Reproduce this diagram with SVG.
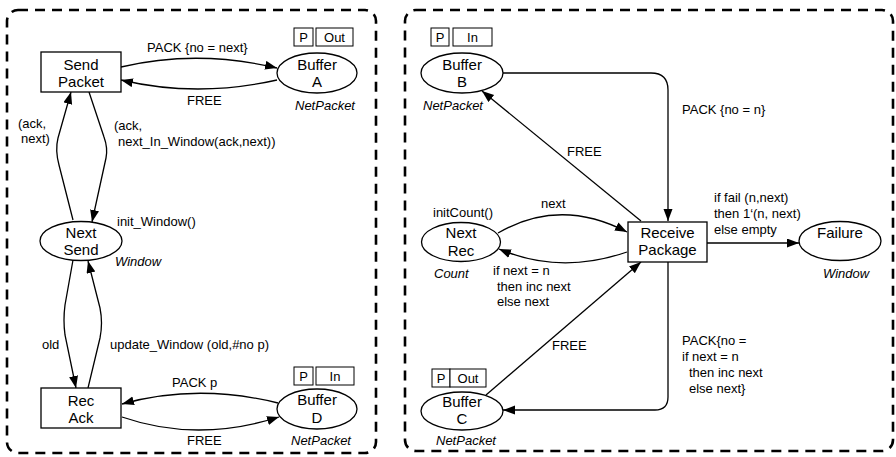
<svg xmlns="http://www.w3.org/2000/svg" width="896" height="457" viewBox="0 0 896 457">
<defs>
<marker id="arr" markerUnits="userSpaceOnUse" markerWidth="12" markerHeight="10" refX="12" refY="4.5" orient="auto">
<path d="M0,0 L12,4.5 L0,9 z" fill="#000"/>
</marker>
<style>
.panel{fill:none;stroke:#000;stroke-width:2.6;stroke-dasharray:10,7}
.node{fill:#fff;stroke:#000;stroke-width:1.3}
.port{fill:#fff;stroke:#000;stroke-width:1}
.edge{fill:none;stroke:#000;stroke-width:1.3;marker-end:url(#arr)}
text{font-family:"Liberation Sans",Arial,Helvetica,sans-serif;fill:#000}
.nl{font-size:15px;text-anchor:middle}
.pl{font-size:13px;text-anchor:middle}
.el{font-size:13px}
.ty{font-size:13px;font-style:italic}
</style>
</defs>
<rect class="panel" x="7" y="10" width="369" height="443" rx="11"/>
<rect class="panel" x="405" y="10" width="488" height="441" rx="11"/>

<g id="connectors">
<path class="edge" d="M121,67 Q197,49 277,68"/>
<path class="edge" d="M277,80 Q197,98 121,80"/>
<path class="edge" d="M73,220 L59,165 Q55,150 58,138 L71,92"/>
<path class="edge" d="M89,92 L104,137 Q108,148 106,158 L92,222"/>
<path class="edge" d="M73,260 L65,305 Q63,320 65,335 L76,388"/>
<path class="edge" d="M88,388 L100,338 Q103,323 100,308 L88,261"/>
<path class="edge" d="M278,403 Q197,383 122,404"/>
<path class="edge" d="M122,417 Q197,443 279,417"/>
<path class="edge" d="M503,73 L651,73 Q668,73 668,90 L668,221"/>
<path class="edge" d="M641,221 L482,91"/>
<path class="edge" d="M498,233 Q560,197 627,232"/>
<path class="edge" d="M627,252 Q560,275 499,249"/>
<path class="edge" d="M707,243 L799,243"/>
<path class="edge" d="M486,395 L641,262"/>
<path class="edge" d="M668,262 L668,397 Q668,410 655,410 L503,410"/>
<text class="el" x="147" y="52">PACK {no = next}</text>
<text class="el" x="187" y="105">FREE</text>
<text class="el" x="18" y="128">(ack,</text>
<text class="el" x="21" y="143">next)</text>
<text class="el" x="114" y="130">(ack,</text>
<text class="el" x="118" y="146">next_In_Window(ack,next))</text>
<text class="el" x="117" y="226">init_Window()</text>
<text class="el" x="42" y="349">old</text>
<text class="el" x="110" y="349">update_Window (old,#no p)</text>
<text class="el" x="172" y="387">PACK p</text>
<text class="el" x="187" y="445">FREE</text>
<text class="el" x="682" y="114">PACK {no = n}</text>
<text class="el" x="567" y="156">FREE</text>
<text class="el" x="433" y="217">initCount()</text>
<text class="el" x="541" y="208">next</text>
<text class="el" x="714" y="202">if fail (n,next)</text>
<text class="el" x="714" y="218">then 1‘(n, next)</text>
<text class="el" x="714" y="234">else empty</text>
<text class="el" x="493" y="275">if next = n</text>
<text class="el" x="497" y="291">then inc next</text>
<text class="el" x="497" y="306">else next</text>
<text class="el" x="552" y="350">FREE</text>
<text class="el" x="682" y="345">PACK{no =</text>
<text class="el" x="682" y="361">if next = n</text>
<text class="el" x="689" y="377">then inc next</text>
<text class="el" x="689" y="393">else next}</text>
</g>

<g id="send-packet">
<rect class="node" x="41" y="52" width="80" height="40"/>
<text class="nl" x="81" y="70">Send</text>
<text class="nl" x="81" y="87">Packet</text>
</g>
<g id="buffer-a">
<ellipse class="node" cx="317" cy="73" rx="40" ry="20"/>
<text class="nl" x="317" y="70">Buffer</text>
<text class="nl" x="317" y="87">A</text>
<rect class="port" x="294" y="28" width="19" height="18"/>
<text class="pl" x="303.5" y="42">P</text>
<rect class="port" x="316" y="28" width="37" height="18"/>
<text class="pl" x="334.5" y="42">Out</text>
<text class="ty" x="295" y="110">NetPacket</text>
</g>
<g id="next-send">
<ellipse class="node" cx="81" cy="241" rx="41" ry="19.5"/>
<text class="nl" x="81" y="238">Next</text>
<text class="nl" x="81" y="255">Send</text>
<text class="ty" x="115" y="266">Window</text>
</g>
<g id="rec-ack">
<rect class="node" x="41" y="388" width="80" height="40"/>
<text class="nl" x="81" y="406">Rec</text>
<text class="nl" x="81" y="423">Ack</text>
</g>
<g id="buffer-d">
<ellipse class="node" cx="317" cy="409" rx="40" ry="20"/>
<text class="nl" x="317" y="405">Buffer</text>
<text class="nl" x="317" y="423">D</text>
<rect class="port" x="294" y="367" width="19" height="18"/>
<text class="pl" x="303.5" y="381">P</text>
<rect class="port" x="316" y="367" width="38" height="18"/>
<text class="pl" x="335" y="381">In</text>
<text class="ty" x="291" y="445">NetPacket</text>
</g>

<g id="buffer-b">
<ellipse class="node" cx="462" cy="73" rx="41" ry="20"/>
<text class="nl" x="462" y="70">Buffer</text>
<text class="nl" x="462" y="87">B</text>
<rect class="port" x="431" y="28" width="18" height="18"/>
<text class="pl" x="440" y="42">P</text>
<rect class="port" x="453" y="28" width="39" height="18"/>
<text class="pl" x="472.5" y="42">In</text>
<text class="ty" x="423" y="110">NetPacket</text>
</g>
<g id="receive-package">
<rect class="node" x="628" y="222" width="79" height="40"/>
<text class="nl" x="667.5" y="238">Receive</text>
<text class="nl" x="667.5" y="255">Package</text>
</g>
<g id="next-rec">
<ellipse class="node" cx="461" cy="242" rx="39.5" ry="19.5"/>
<text class="nl" x="461" y="238">Next</text>
<text class="nl" x="461" y="256">Rec</text>
<text class="ty" x="434" y="278">Count</text>
</g>
<g id="failure">
<ellipse class="node" cx="840" cy="241" rx="41" ry="19.5"/>
<text class="nl" x="840" y="238">Failure</text>
<text class="ty" x="823" y="278">Window</text>
</g>
<g id="buffer-c">
<ellipse class="node" cx="462" cy="411" rx="41" ry="19"/>
<text class="nl" x="462" y="407">Buffer</text>
<text class="nl" x="462" y="424">C</text>
<rect class="port" x="432" y="369" width="18" height="18"/>
<text class="pl" x="441" y="383">P</text>
<rect class="port" x="450" y="369" width="36" height="18"/>
<text class="pl" x="468" y="383">Out</text>
<text class="ty" x="436" y="445">NetPacket</text>
</g>
</svg>
